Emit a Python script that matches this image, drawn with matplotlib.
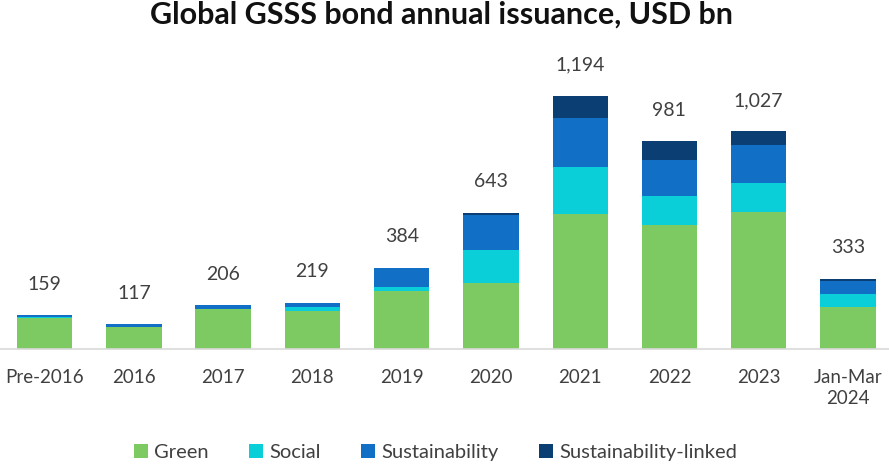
import matplotlib.pyplot as plt
import numpy as np

categories = ['Pre-2016', '2016', '2017', '2018', '2019', '2020', '2021', '2022', '2023', 'Jan-Mar\n2024']
totals = [159, 117, 206, 219, 384, 643, 1194, 981, 1027, 333]
green = [146, 104, 189, 181, 274, 313, 639, 584, 647, 198]
social = [5, 2, 2, 19, 20, 153, 220, 138, 137, 60]
sustainability = [8, 11, 15, 19, 90, 165, 230, 170, 178, 63]
# whatever is left over goes to sustainability-linked
linked = [t - g - s - su for t, g, s, su in zip(totals, green, social, sustainability)]

series = [('Green', green, '#7dc962'),
          ('Social', social, '#0bcfd8'),
          ('Sustainability', sustainability, '#1170c6'),
          ('Sustainability-linked', linked, '#0b3f73')]

plt.rcParams['font.family'] = ['Lato', 'DejaVu Sans']

fig = plt.figure(figsize=(8.89, 4.68), dpi=100)
ax = fig.add_axes([0.0, 0.254, 1.0, 0.634])

x = np.arange(len(categories))
bottom = np.zeros(len(categories))
for name, vals, col in series:
    ax.bar(x, vals, 0.62, bottom=bottom, color=col, label=name, zorder=2)
    bottom += np.array(vals)

for xi, t in zip(x, totals):
    ax.annotate(f'{t:,}', (xi, t), xytext=(0, 31), textcoords='offset pixels',
                ha='center', va='center', fontsize=14, color='#404040')

ax.set_xlim(-0.5, 9.46)
ax.set_ylim(0, 1400)
ax.set_yticks([])
ax.set_xticks(x)
ax.set_xticklabels(categories, fontsize=13.5, color='#404040', linespacing=1.35)
ax.tick_params(axis='x', length=0, pad=14)
for sp in ['top', 'left', 'right']:
    ax.spines[sp].set_visible(False)
ax.spines['bottom'].set_color('#d9d9d9')
ax.spines['bottom'].set_linewidth(1.2)

fig.text(0.497, 0.968, 'Global GSSS bond annual issuance, USD bn', ha='center', va='center',
         fontsize=22, fontweight='bold', color='#111111')

fig.legend(loc='center', bbox_to_anchor=(0.49, 0.033), ncol=4, frameon=False,
           fontsize=14.5, handlelength=0.7, handleheight=0.7, handletextpad=0.3,
           columnspacing=2.0, labelcolor='#404040')

fig.savefig('out.png', dpi=100)
